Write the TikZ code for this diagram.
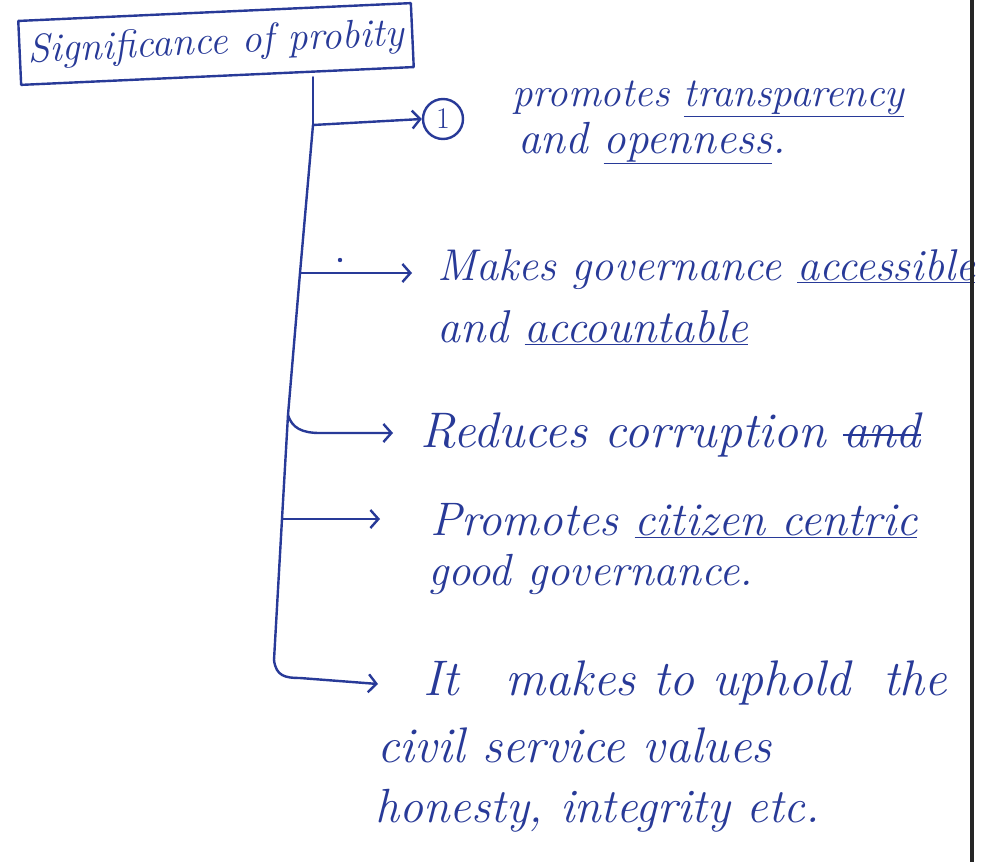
\documentclass[tikz,border=0pt]{standalone}
\usetikzlibrary{arrows.meta}
\definecolor{ink}{RGB}{40,58,152}
% struck-out word
\newcommand\crossout[1]{\setbox0\hbox{#1}\rlap{\raise0.22em\hbox to\wd0{\leaders\hrule height 2.4pt\hfill}}\box0}
\newcommand\fs[1]{\itshape\fontsize{#1}{#1}\selectfont}
\begin{document}
\begin{tikzpicture}[x=1pt,y=-1pt,
  pen/.style={draw=ink,line width=2.4pt,line cap=round,line join=round},
  tip/.style={-{Straight Barb[length=8pt,width=18pt]}},
  item/.style={text=ink,anchor=base west,inner sep=0pt},
  ]
\fill[white] (0,0) rectangle (985,862);
\useasboundingbox (0,0) rectangle (985,862);

% heading box
\node[pen,text=ink,font=\fs{40},
      minimum width=393pt,minimum height=64pt,inner sep=0pt,rotate=2.6]
      (title) at (216,44) {Significance of probity};

% numbered first point
\node[circle,pen,text=ink,font=\fontsize{30}{30}\selectfont,
      inner sep=0pt,minimum size=40pt] (num) at (443,119) {1};

% points
\node[item,font=\fs{41}] (t1a) at (512,106) {promotes \underline{transparency}};
\node[item,font=\fs{45}] (t1b) at (518,153) {and \underline{openness}.};
\node[item,font=\fs{44.5}] (t2a) at (437,280) {Makes governance \underline{accessible}};
\node[item,font=\fs{46}] (t2b) at (437,342) {and \underline{accountable}};
\node[item,font=\fs{50}] (t3)  at (420,447) {Reduces corruption \crossout{and}};
\node[item,font=\fs{47}] (t4a) at (430,535) {Promotes \underline{citizen centric}};
\node[item,font=\fs{45}] (t4b) at (428,585) {good governance.};
\node[item,font=\fs{50}] (t5a) at (423,695) {It\hspace{0.6em} makes to uphold\hspace{0.3em} the};
\node[item,font=\fs{50}] (t5b) at (377,762) {civil service values};
\node[item,font=\fs{48}] (t5c) at (375,822) {honesty, integrity etc.};

% trunk junctions
\coordinate (j0) at (313,125);
\coordinate (b2) at (300,273);
\coordinate (b3) at (288,415);
\coordinate (b4) at (282,519);
\coordinate (b5) at (274,660);

% stem from the heading and first branch
\draw[pen] (title.south -| j0) -- (j0);
\draw[pen,tip] (j0) -- (num.west);

% trunk ending in the last branch
\draw[pen] (j0) -- (b2) -- (b3) -- (b4) -- (b5);
\draw[pen,tip] (b5) .. controls (276,676) and (285,678) .. (300,678)
      -- ([xshift=-45pt]t5a.west |- 0,684);

% side branches
\draw[pen,tip] (b2) -- ([xshift=-25pt]t2a.west |- b2);
\draw[pen,tip] (b3) .. controls (292,428) and (302,433) .. (320,433)
      -- ([xshift=-27pt]t3.west |- 0,433);
\draw[pen,tip] (b4) -- ([xshift=-50pt]t4a.west |- b4);
\fill[ink] (340,260) circle (2.2pt);

% right page edge
\draw[line width=4pt,black!85] (972,0) -- (972,862);
\end{tikzpicture}
\end{document}
